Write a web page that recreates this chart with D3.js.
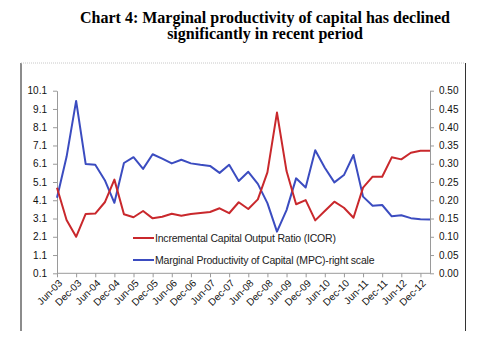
<!DOCTYPE html>
<html><head><meta charset="utf-8">
<script src="https://cdn.jsdelivr.net/npm/d3@7"></script>
<style>
body{margin:0;background:#fff;}
svg text{font-family:"Liberation Sans",Arial,sans-serif;}
</style></head>
<body>
<svg id="c" width="487" height="355"></svg>
<script>
const categories = ["Jun-03","Sep-03","Dec-03","Mar-04","Jun-04","Sep-04","Dec-04","Mar-05","Jun-05","Sep-05","Dec-05","Mar-06","Jun-06","Sep-06","Dec-06","Mar-07","Jun-07","Sep-07","Dec-07","Mar-08","Jun-08","Sep-08","Dec-08","Mar-09","Jun-09","Sep-09","Dec-09","Mar-10","Jun-10","Sep-10","Dec-10","Mar-11","Jun-11","Sep-11","Dec-11","Mar-12","Jun-12","Sep-12","Dec-12","Mar-13"];
const icor = [4.79,3.02,2.10,3.35,3.37,3.99,5.23,3.33,3.17,3.51,3.11,3.20,3.36,3.25,3.35,3.40,3.46,3.66,3.39,3.99,3.62,4.15,5.63,8.90,5.70,3.88,4.11,3.00,3.51,4.02,3.69,3.14,4.79,5.39,5.39,6.45,6.34,6.70,6.81,6.81];
const mpc = [0.207,0.319,0.472,0.299,0.297,0.255,0.193,0.302,0.318,0.286,0.326,0.314,0.301,0.311,0.301,0.297,0.294,0.275,0.297,0.253,0.278,0.245,0.192,0.114,0.173,0.260,0.235,0.337,0.289,0.249,0.269,0.324,0.210,0.185,0.187,0.156,0.159,0.151,0.148,0.147];
const leftTicks = [0.1,1.1,2.1,3.1,4.1,5.1,6.1,7.1,8.1,9.1,10.1];
const rightTicks = [0,0.05,0.10,0.15,0.20,0.25,0.30,0.35,0.40,0.45,0.50];
const xTickLabels = categories.filter((d,i)=>i%2===0);
const titleLines = ["Chart 4: Marginal productivity of capital has declined","significantly in recent period"];
const seriesNames = ["Incremental Capital Output Ratio (ICOR)","Marginal Productivity of Capital (MPC)-right scale"];

const svg = d3.select("#c");
const L=57, R=430, T=90.7, B=273.3;
const red="#c9282c", blue="#3b4cc0", axisCol="#9a9a9a";

// outer frame
svg.append("line").attr("x1",21).attr("x2",21).attr("y1",63).attr("y2",331).attr("stroke","#8c8c8c").attr("stroke-width",2);
svg.append("line").attr("x1",21).attr("x2",465).attr("y1",63).attr("y2",63).attr("stroke","#c8c8c8").attr("stroke-width",1).attr("stroke-dasharray","1,1");
svg.append("line").attr("x1",465.5).attr("x2",465.5).attr("y1",63).attr("y2",331).attr("stroke","#333").attr("stroke-width",1);

// title
const tt = svg.append("text").attr("text-anchor","middle")
  .style("font-family","'Liberation Serif','Times New Roman',serif").attr("font-weight","bold").attr("font-size",16).attr("fill","#000");
tt.append("tspan").attr("x",265).attr("y",23).text(titleLines[0]);
tt.append("tspan").attr("x",265).attr("y",39).text(titleLines[1]);

const x = d3.scalePoint().domain(categories).range([L,R]);
const yL = d3.scaleLinear().domain([0.1,10.1]).range([B,T]);
const yR = d3.scaleLinear().domain([0,0.5]).range([B,T]);

function styleAxis(g){
  g.selectAll(".domain").attr("stroke",axisCol);
  g.selectAll(".tick line").attr("stroke",axisCol);
  g.selectAll(".tick text").attr("fill","#111").attr("font-size",10).style("font-family","'Liberation Sans',Arial,sans-serif");
}

const gl = svg.append("g").attr("transform",`translate(${L},0)`)
  .call(d3.axisLeft(yL).tickValues(leftTicks).tickFormat(d3.format(".1f")).tickSize(4).tickSizeOuter(0).tickPadding(6));
styleAxis(gl);
const gr = svg.append("g").attr("transform",`translate(${R},0)`)
  .call(d3.axisRight(yR).tickValues(rightTicks).tickFormat(d3.format(".2f")).tickSize(4).tickSizeOuter(0).tickPadding(5));
styleAxis(gr);
const gx = svg.append("g").attr("transform",`translate(0,${B})`)
  .call(d3.axisBottom(x).tickValues(xTickLabels).tickSize(4).tickSizeOuter(0).tickPadding(4));
styleAxis(gx);
gx.selectAll(".tick text").attr("text-anchor","end").attr("dy","0.35em")
  .attr("transform","translate(3,8) rotate(-45)").attr("y",0).attr("x",0);
gx.select(".domain").attr("d",`M${L},0H${R}`);

const lineL = d3.line().x((d,i)=>x(categories[i])).y(d=>yL(d));
const lineR = d3.line().x((d,i)=>x(categories[i])).y(d=>yR(d));
svg.append("path").datum(mpc).attr("d",lineR).attr("fill","none").attr("stroke",blue).attr("stroke-width",2).attr("stroke-linejoin","round");
svg.append("path").datum(icor).attr("d",lineL).attr("fill","none").attr("stroke",red).attr("stroke-width",2).attr("stroke-linejoin","round");

// legend
const leg = [[seriesNames[0],red,238],[seriesNames[1],blue,260]];
leg.forEach(([n,c,yy])=>{
  svg.append("line").attr("x1",133).attr("x2",154).attr("y1",yy).attr("y2",yy).attr("stroke",c).attr("stroke-width",2);
  svg.append("text").attr("x",155).attr("y",yy+3.5).attr("font-size",10.5).attr("fill","#222").attr("letter-spacing","-0.2").text(n);
});
</script>
</body></html>
